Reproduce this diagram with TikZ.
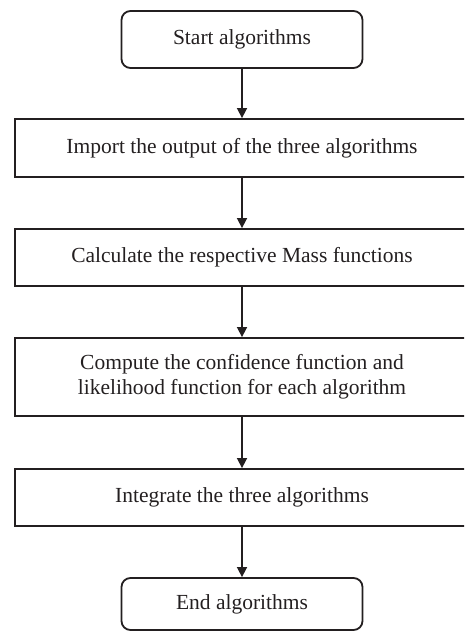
\documentclass[tikz,border=0pt]{standalone}
\usepackage{fontspec}
\setmainfont{Liberation Serif}
\usetikzlibrary{arrows.meta}
\definecolor{ink}{HTML}{231F20}
\begin{document}
\begin{tikzpicture}[x=1pt,y=-1pt,
  every node/.style={font=\fontsize{21.5}{25}\selectfont, text=ink, align=center},
  stepbox/.style={draw=ink, line width=1.8pt, rectangle, minimum width=454pt, inner sep=0pt},
  termbox/.style={draw=ink, line width=1.8pt, rectangle, rounded corners=9pt, minimum width=241pt, inner sep=0pt},
  flow/.style={draw=ink, line width=1.6pt, -{Triangle[length=10pt,width=10pt]}}]
  \useasboundingbox (0,0) rectangle (464,631);
  \clip (0,0) rectangle (464,631);
  \node[termbox, minimum height=57pt] (start) at (242,39.5) {Start algorithms};
  \node[stepbox, minimum height=58pt] (imp) at (242,148) {Import the output of the three algorithms};
  \node[stepbox, minimum height=57pt] (mass) at (242,257.5) {Calculate the respective Mass functions};
  \node[stepbox, minimum height=78pt] (conf) at (242,377) {Compute the confidence function and\\likelihood function for each algorithm};
  \node[stepbox, minimum height=57pt] (integ) at (242,497.5) {Integrate the three algorithms};
  \node[termbox, minimum height=52pt] (stop) at (242,604) {End algorithms};
  \draw[flow] (start) -- (imp);
  \draw[flow] (imp) -- (mass);
  \draw[flow] (mass) -- (conf);
  \draw[flow] (conf) -- (integ);
  \draw[flow] (integ) -- (stop);
\end{tikzpicture}
\end{document}
